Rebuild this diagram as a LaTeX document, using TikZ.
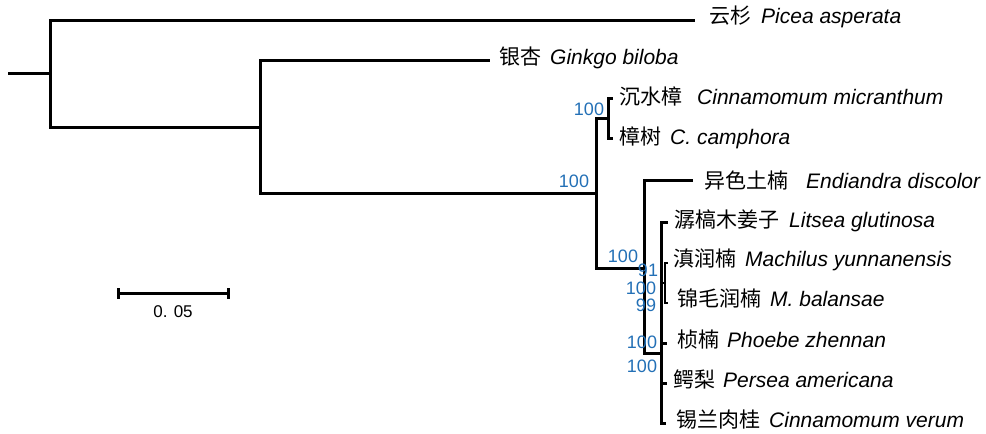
\documentclass[tikz,border=0pt]{standalone}
\usepackage{fontspec}
\setmainfont{Liberation Sans}
\newfontfamily\cjk{Noto Sans CJK SC}
\definecolor{bsblue}{RGB}{35,112,182}
\tikzset{
  branch/.style={line width=3pt, black},
  thinbranch/.style={line width=1.8pt, black},
  taxon/.style={anchor=west, inner sep=0pt, font=\fontsize{21}{25}\selectfont, text height=15pt, text depth=0pt},
  boot/.style={inner sep=0pt, text=bsblue, font=\fontsize{18}{20}\selectfont},
  scaletxt/.style={inner sep=0pt, font=\fontsize{17}{20}\selectfont}
}
\newcommand{\tx}[3]{{\cjk #1}\hspace{#2pt}\textit{#3}}
\begin{document}
\begin{tikzpicture}[x=1pt,y=-1pt]
\useasboundingbox (0,0) rectangle (986,434);
% internal nodes and tips
\coordinate (root) at (8,73);
\coordinate (n0) at (50,73);
\coordinate (tPic) at (695,20);
\coordinate (n1) at (260,127);
\coordinate (tGin) at (490,60);
\coordinate (n2) at (596,193);
\coordinate (n3) at (608,118);
\coordinate (tMic) at (613,98);
\coordinate (tCam) at (613,138);
\coordinate (n4) at (644,268);
\coordinate (tEnd) at (693,180);
\coordinate (n5) at (661,353);
\coordinate (tLit) at (668,222);
\coordinate (n6) at (665,283);
\coordinate (tMac) at (668,263);
\coordinate (tBal) at (668,303);
\coordinate (tPho) at (667,343);
\coordinate (tPer) at (667,383);
\coordinate (tVer) at (666,423);
% branches
\draw[branch] (root) -- (n0);
\draw[branch] (n0) |- (tPic);
\draw[branch] (n0) |- (n1);
\draw[branch] (n1) |- (tGin);
\draw[branch] (n1) |- (n2);
\draw[branch] (n2) |- (n3);
\draw[branch] (n3) |- (tMic);
\draw[branch] (n3) |- (tCam);
\draw[branch] (n2) |- (n4);
\draw[branch] (n4) |- (tEnd);
\draw[branch] (n4) |- (n5);
\draw[branch] (n5) |- (tLit);
\draw[thinbranch] (n5) |- (n6);
\draw[thinbranch] (n6) |- (tMac);
\draw[thinbranch] (n6) |- (tBal);
\draw[branch] (n5) |- (tPho);
\draw[branch] (n5) |- (tPer);
\draw[branch] (n5) |- (tVer);
\draw[line width=3.8pt] ([xshift=0.4pt]n5 |- tMac) -- ([xshift=0.4pt]n5 |- tBal);
% taxon labels
\node[taxon] (lPic) at (709,16) {\tx{云杉}{10}{Picea asperata}};
\node[taxon] (lGin) at (499,57) {\tx{银杏}{9}{Ginkgo biloba}};
\node[taxon] (lMic) at (619,97) {\tx{沉水樟}{15}{Cinnamomum micranthum}};
\node[taxon] (lCam) at (619,137) {\tx{樟树}{9}{C. camphora}};
\node[taxon] (lEnd) at (704,181) {\tx{异色土楠}{18}{Endiandra discolor}};
\node[taxon] (lLit) at (674,220) {\tx{潺槁木姜子}{10}{Litsea glutinosa}};
\node[taxon] (lMac) at (673,259) {\tx{滇润楠}{9}{Machilus yunnanensis}};
\node[taxon] (lBal) at (677,299) {\tx{锦毛润楠}{9}{M. balansae}};
\node[taxon] (lPho) at (677,340) {\tx{桢楠}{8}{Phoebe zhennan}};
\node[taxon] (lPer) at (673,380) {\tx{鳄梨}{8}{Persea americana}};
\node[taxon] (lVer) at (676,420) {\tx{锡兰肉桂}{9}{Cinnamomum verum}};
% bootstrap values
\node[boot] (b1) at (589,109) {100};
\node[boot] (b2) at (574,181) {100};
\node[boot] (b3) at (623,256) {100};
\node[boot] (b4) at (648,270) {91};
\node[boot] (b5) at (641,288) {100};
\node[boot] (b6) at (646,305) {99};
\node[boot] (b7) at (642,342) {100};
\node[boot] (b8) at (642,366) {100};
% scale bar
\coordinate (sbL) at (118,293);
\coordinate (sbR) at (228,293);
\draw[branch] (sbL) -- (sbR);
\draw[branch] ([yshift=-5.5pt]sbL) -- ([yshift=5.5pt]sbL);
\draw[branch] ([yshift=-5.5pt]sbR) -- ([yshift=5.5pt]sbR);
\node[scaletxt] (sbt) at (173,312) {0. 05};
\end{tikzpicture}
\end{document}
